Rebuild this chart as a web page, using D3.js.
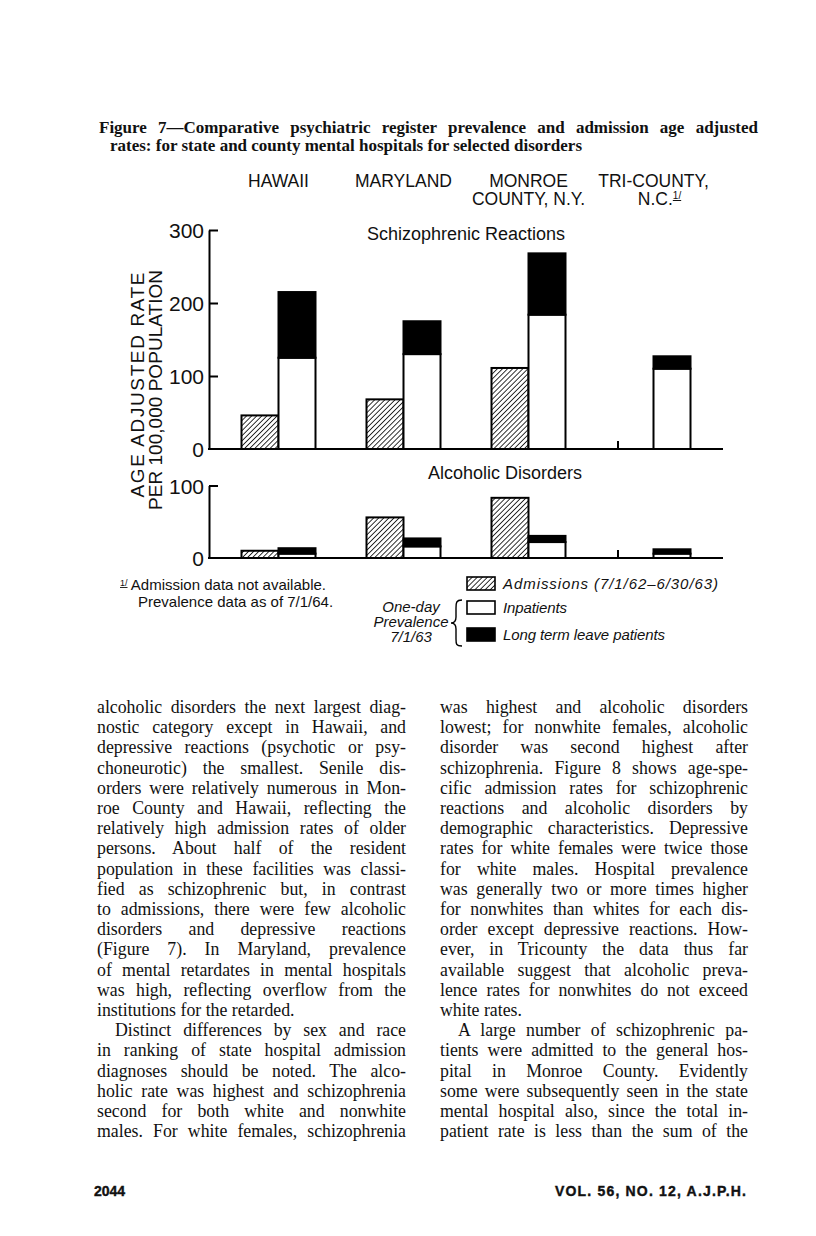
<!DOCTYPE html>
<html>
<head>
<meta charset="utf-8">
<script src="https://cdn.jsdelivr.net/npm/d3@7"></script>
<style>
  body { margin: 0; background: #fff; }
  svg { display: block; }
</style>
</head>
<body>
<svg id="page" width="816" height="1236"></svg>
<script>
// ---- data ----
const regions = ["Hawaii", "Maryland", "Monroe", "Tri-County"];
const regionLabels = [["HAWAII"], ["MARYLAND"], ["MONROE", "COUNTY, N.Y."], ["TRI-COUNTY,", "N.C."]];

const schizAdmissions = [46, 68, 111, null];
const schizInpatients = [125, 130, 184, 110];
const schizLongTerm   = [90, 45, 84, 17];

const alcAdmissions = [10, 56, 83, null];
const alcInpatients = [6, 16, 22, 6];
const alcLongTerm   = [7.5, 11, 8.5, 6];

const schizTicks = [0, 100, 200, 300];
const alcTicks = [0, 100];

const titleLines = [
  "Figure 7\u2014Comparative psychiatric register prevalence and admission age adjusted",
  "rates: for state and county mental hospitals for selected disorders"
];

// [text, justified, indented]
const leftLines = [
  ["alcoholic disorders the next largest diag-", 1, 0],
  ["nostic category except in Hawaii, and", 1, 0],
  ["depressive reactions (psychotic or psy-", 1, 0],
  ["choneurotic) the smallest. Senile dis-", 1, 0],
  ["orders were relatively numerous in Mon-", 1, 0],
  ["roe County and Hawaii, reflecting the", 1, 0],
  ["relatively high admission rates of older", 1, 0],
  ["persons. About half of the resident", 1, 0],
  ["population in these facilities was classi-", 1, 0],
  ["fied as schizophrenic but, in contrast", 1, 0],
  ["to admissions, there were few alcoholic", 1, 0],
  ["disorders and depressive reactions", 1, 0],
  ["(Figure 7). In Maryland, prevalence", 1, 0],
  ["of mental retardates in mental hospitals", 1, 0],
  ["was high, reflecting overflow from the", 1, 0],
  ["institutions for the retarded.", 0, 0],
  ["Distinct differences by sex and race", 1, 1],
  ["in ranking of state hospital admission", 1, 0],
  ["diagnoses should be noted. The alco-", 1, 0],
  ["holic rate was highest and schizophrenia", 1, 0],
  ["second for both white and nonwhite", 1, 0],
  ["males. For white females, schizophrenia", 1, 0]
];

const rightLines = [
  ["was highest and alcoholic disorders", 1, 0],
  ["lowest; for nonwhite females, alcoholic", 1, 0],
  ["disorder was second highest after", 1, 0],
  ["schizophrenia. Figure 8 shows age-spe-", 1, 0],
  ["cific admission rates for schizophrenic", 1, 0],
  ["reactions and alcoholic disorders by", 1, 0],
  ["demographic characteristics. Depressive", 1, 0],
  ["rates for white females were twice those", 1, 0],
  ["for white males. Hospital prevalence", 1, 0],
  ["was generally two or more times higher", 1, 0],
  ["for nonwhites than whites for each dis-", 1, 0],
  ["order except depressive reactions. How-", 1, 0],
  ["ever, in Tricounty the data thus far", 1, 0],
  ["available suggest that alcoholic preva-", 1, 0],
  ["lence rates for nonwhites do not exceed", 1, 0],
  ["white rates.", 0, 0],
  ["A large number of schizophrenic pa-", 1, 1],
  ["tients were admitted to the general hos-", 1, 0],
  ["pital in Monroe County. Evidently", 1, 0],
  ["some were subsequently seen in the state", 1, 0],
  ["mental hospital also, since the total in-", 1, 0],
  ["patient rate is less than the sum of the", 1, 0]
];

// ---- layout ----
const svg = d3.select("#page");
const sans = "'Liberation Sans', Arial, sans-serif";
const serif = "'Liberation Serif', 'Times New Roman', serif";

const axisLeftX = 209, axisRightX = 723;

const x = d3.scaleBand()
  .domain(regions)
  .range([axisLeftX, axisRightX])
  .paddingInner(0.408)
  .paddingOuter(0.26);

const sub = d3.scaleBand()
  .domain(["adm", "prev"])
  .range([0, x.bandwidth()]);

const ySchiz = d3.scaleLinear().domain([0, 300]).range([449, 230]);
const yAlc = d3.scaleLinear().domain([0, 100]).range([558, 485.5]);

// hatch pattern
const defs = svg.append("defs");
defs.append("pattern")
  .attr("id", "hatch")
  .attr("patternUnits", "userSpaceOnUse")
  .attr("width", 3.6).attr("height", 3.6)
  .attr("patternTransform", "rotate(45)")
  .append("line")
  .attr("x1", 0).attr("y1", 0).attr("x2", 0).attr("y2", 3.6)
  .attr("stroke", "#000").attr("stroke-width", 1.6);

// justified text line helper
function textLine(g, tx, ty, width, text, justify) {
  let t = g.append("text").attr("x", tx).attr("y", ty).text(text);
  if (justify) {
    let natural = t.node().getComputedTextLength();
    let spaces = (text.match(/ /g) || []).length;
    if (natural > width) {
      t.attr("textLength", width).attr("lengthAdjust", "spacingAndGlyphs");
    } else if (spaces > 0) {
      t.attr("word-spacing", (width - natural) / spaces);
    }
  }
  return t;
}

// ---- title ----
let title = svg.append("g")
  .attr("font-family", serif)
  .attr("font-weight", "bold")
  .attr("font-size", 17)
  .attr("fill", "#111");
textLine(title, 99, 133, 659, titleLines[0], true);
textLine(title, 110, 151, 0, titleLines[1], false);

// ---- region headers ----
let headers = svg.append("g")
  .attr("font-family", sans)
  .attr("font-size", 17.5)
  .attr("text-anchor", "middle")
  .attr("fill", "#111");

regions.forEach((r, i) => {
  let cx = x(r) + x.bandwidth() / 2;
  regionLabels[i].forEach((lab, j) => {
    let t = headers.append("text")
      .attr("x", cx + (i == 3 && j == 1 ? 6 : 0))
      .attr("y", 187 + j * 18)
      .text(lab);
    if (i == 3 && j == 1) {
      t.append("tspan")
        .attr("font-size", 10)
        .attr("dy", -6)
        .attr("text-decoration", "underline")
        .text("1/");
    }
  });
});

// ---- panels ----
function drawPanel(y, ticks, adm, inp, lt, label, labelX, labelY) {
  let g = svg.append("g");

  let yAxis = d3.axisLeft(y)
    .tickValues(ticks)
    .tickSize(-9)
    .tickSizeOuter(0)
    .tickPadding(5)
    .tickFormat(d3.format("d"));

  let ax = g.append("g")
    .attr("transform", `translate(${axisLeftX},0)`)
    .call(yAxis);
  ax.select(".domain").attr("stroke-width", 2);
  ax.selectAll(".tick line").attr("stroke-width", 2)
    .attr("display", d => d == 0 ? "none" : null);
  ax.selectAll("text")
    .attr("font-family", sans)
    .attr("font-size", 21)
    .attr("fill", "#111")
    .attr("dy", "0.36em");

  // baseline
  g.append("line")
    .attr("x1", axisLeftX - 1).attr("x2", axisRightX)
    .attr("y1", y(0)).attr("y2", y(0))
    .attr("stroke", "#000").attr("stroke-width", 2);

  // panel label
  g.append("text")
    .attr("x", labelX).attr("y", labelY)
    .attr("text-anchor", "middle")
    .attr("font-family", sans)
    .attr("font-size", 18)
    .attr("fill", "#111")
    .text(label);

  regions.forEach((r, i) => {
    let x0 = x(r);
    // admissions
    if (adm[i] == null) {
      g.append("line")
        .attr("x1", x0 + 1.5).attr("x2", x0 + 1.5)
        .attr("y1", y(0)).attr("y2", y(0) - 8)
        .attr("stroke", "#000").attr("stroke-width", 2);
    } else {
      g.append("rect")
        .attr("x", x0 + sub("adm"))
        .attr("y", y(adm[i]))
        .attr("width", sub.bandwidth())
        .attr("height", y(0) - y(adm[i]))
        .attr("fill", "url(#hatch)")
        .attr("stroke", "#000").attr("stroke-width", 2);
    }
    // inpatients (white)
    g.append("rect")
      .attr("x", x0 + sub("prev"))
      .attr("y", y(inp[i]))
      .attr("width", sub.bandwidth())
      .attr("height", y(0) - y(inp[i]))
      .attr("fill", "#fff")
      .attr("stroke", "#000").attr("stroke-width", 2);
    // long term leave (black) stacked on top
    g.append("rect")
      .attr("x", x0 + sub("prev"))
      .attr("y", y(inp[i] + lt[i]))
      .attr("width", sub.bandwidth())
      .attr("height", y(inp[i]) - y(inp[i] + lt[i]))
      .attr("fill", "#000")
      .attr("stroke", "#000").attr("stroke-width", 2);
  });
}

drawPanel(ySchiz, schizTicks, schizAdmissions, schizInpatients, schizLongTerm,
  "Schizophrenic Reactions", 466, 240);
drawPanel(yAlc, alcTicks, alcAdmissions, alcInpatients, alcLongTerm,
  "Alcoholic Disorders", 505, 479);

// y axis title
let ytitle = svg.append("g")
  .attr("font-family", sans)
  .attr("font-size", 19)
  .attr("fill", "#111")
  .attr("text-anchor", "middle");
ytitle.append("text")
  .attr("transform", "translate(144,385) rotate(-90)")
  .attr("textLength", 225).attr("lengthAdjust", "spacing")
  .text("AGE ADJUSTED RATE");
ytitle.append("text")
  .attr("transform", "translate(162,390) rotate(-90)")
  .attr("textLength", 240).attr("lengthAdjust", "spacing")
  .text("PER 100,000 POPULATION");

// ---- footnote ----
let foot = svg.append("g")
  .attr("font-family", sans)
  .attr("font-size", 15)
  .attr("fill", "#111");
let f1 = foot.append("text").attr("x", 120).attr("y", 590);
f1.append("tspan").attr("font-size", 9).attr("dy", -4)
  .attr("text-decoration", "underline").text("1/");
f1.append("tspan").attr("dy", 4).text(" Admission data not available.");
foot.append("text").attr("x", 138).attr("y", 607)
  .text("Prevalence data as of 7/1/64.");

// ---- legend ----
let leg = svg.append("g")
  .attr("font-family", sans)
  .attr("font-style", "italic")
  .attr("font-size", 15)
  .attr("fill", "#111");

const legendItems = [
  { fill: "url(#hatch)", label: "Admissions (7/1/62\u20136/30/63)", y: 577, len: 215 },
  { fill: "#fff", label: "Inpatients", y: 601, len: 64 },
  { fill: "#000", label: "Long term leave patients", y: 628, len: 162 }
];
legendItems.forEach(d => {
  leg.append("rect")
    .attr("x", 467).attr("y", d.y)
    .attr("width", 28).attr("height", 13)
    .attr("fill", d.fill)
    .attr("stroke", "#000").attr("stroke-width", 1.6);
  leg.append("text")
    .attr("x", 503).attr("y", d.y + 12)
    .attr("textLength", d.len).attr("lengthAdjust", "spacing")
    .text(d.label);
});

["One-day", "Prevalence", "7/1/63"].forEach((s, i) => {
  leg.append("text")
    .attr("x", 411).attr("y", [612, 627, 642][i])
    .attr("text-anchor", "middle")
    .text(s);
});

// brace
leg.append("path")
  .attr("d", "M462,600 C456,600 456,603 456,608 L456,617 C456,621 455,623 451,623 " +
             "C455,623 456,625 456,629 L456,639 C456,644 456,646 462,646")
  .attr("fill", "none").attr("stroke", "#000").attr("stroke-width", 1.4);

// ---- body text ----
let body = svg.append("g")
  .attr("font-family", serif)
  .attr("font-size", 17.8)
  .attr("fill", "#111");

leftLines.forEach((d, i) => {
  let indent = d[2] ? 18 : 0;
  textLine(body, 97 + indent, 713 + i * 20.2, 309 - indent, d[0], d[1]);
});
rightLines.forEach((d, i) => {
  let indent = d[2] ? 18 : 0;
  textLine(body, 440 + indent, 713 + i * 20.2, 308 - indent, d[0], d[1]);
});

// ---- page footer ----
let pf = svg.append("g")
  .attr("font-family", sans)
  .attr("font-weight", "bold")
  .attr("font-size", 14)
  .attr("fill", "#111")
  .attr("stroke", "#111").attr("stroke-width", 0.4);
pf.append("text").attr("x", 94).attr("y", 1196).text("2044");
pf.append("text").attr("x", 555).attr("y", 1196)
  .attr("textLength", 191).attr("lengthAdjust", "spacing")
  .text("VOL. 56, NO. 12, A.J.P.H.");
</script>
</body>
</html>
